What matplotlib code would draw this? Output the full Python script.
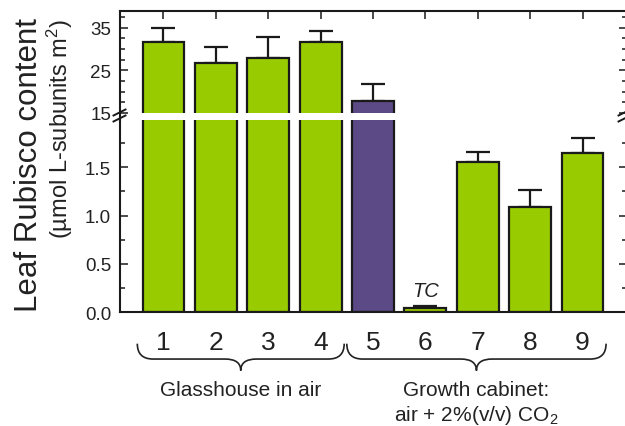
import matplotlib
matplotlib.use("Agg")
import matplotlib.pyplot as plt
from matplotlib.path import Path
from matplotlib.patches import PathPatch
from matplotlib.lines import Line2D
from matplotlib.ticker import MultipleLocator, FormatStrFormatter
import matplotlib.transforms as mtransforms
import numpy as np

plt.rcParams['font.family'] = ['Liberation Sans', 'DejaVu Sans']
plt.rcParams['mathtext.fontset'] = 'custom'
plt.rcParams['mathtext.rm'] = 'Liberation Sans'
plt.rcParams['mathtext.it'] = 'Liberation Sans:italic'

# ---- data -------------------------------------------------------------
categories = ['1', '2', '3', '4', '5', '6', '7', '8', '9']
rubisco = [31.7, 26.6, 27.8, 31.7, 17.9, 0.04, 1.55, 1.09, 1.65]
rubisco_err = [3.2, 3.9, 5.0, 2.6, 3.8, 0.02, 0.11, 0.17, 0.15]
bar_colors = ['#99cc00', '#99cc00', '#99cc00', '#99cc00', '#5c4a87',
              '#99cc00', '#99cc00', '#99cc00', '#99cc00']
groups = [(1, 4, 'Glasshouse in air'),
          (5, 9, 'Growth cabinet:\nair + 2%(v/v) CO$_\\mathregular{2}$')]
tc_index = 5          # bar labelled "TC"

W, H = 625, 427
fig = plt.figure(figsize=(W / 100, H / 100), dpi=100)

def fx(px):
    return px / W

def fy(py):
    return 1 - py / H

left_px, right_px = 119.5, 626.5
up_top, up_bot = 12, 114
lo_top, lo_bot = 121, 313

ax_up = fig.add_axes([fx(left_px), fy(up_bot), fx(right_px - left_px), (up_bot - up_top) / H])
ax_lo = fig.add_axes([fx(left_px), fy(lo_bot), fx(right_px - left_px), (lo_bot - lo_top) / H])

x = np.arange(1, len(categories) + 1)
ink = '#1a1a1a'
for ax in (ax_up, ax_lo):
    ax.bar(x, rubisco, width=0.8, color=bar_colors, edgecolor=ink, linewidth=1.6, zorder=2)
    ax.errorbar(x, rubisco, yerr=[np.zeros(len(x)), rubisco_err], fmt='none',
                ecolor=ink, elinewidth=1.6, capsize=8.5, capthick=1.6, zorder=1.5)
    ax.set_xlim(0.16, 9.84)
    for s in ax.spines.values():
        s.set_linewidth(1.5)
        s.set_color(ink)
    ax.tick_params(axis='y', which='both', direction='in', left=True, right=True,
                   color=ink, width=1.1, labelsize=13.5, labelcolor='#222222', pad=6)
    ax.tick_params(axis='y', which='major', length=6)
    ax.tick_params(axis='y', which='minor', length=3.5)

# upper (broken) panel
ax_up.set_ylim(15, 38.9)
ax_up.yaxis.set_minor_locator(MultipleLocator(2.5))
ax_up.set_yticks([15, 25, 35])
ax_up.spines['bottom'].set_visible(False)
ax_up.set_xticks(x)
ax_up.tick_params(axis='x', which='both', bottom=False, top=True, labelbottom=False,
                  direction='in', length=6, width=1.1, color=ink)

# lower panel
ax_lo.set_ylim(0, 1.99)
ax_lo.yaxis.set_minor_locator(MultipleLocator(0.25))
ax_lo.set_yticks([0.0, 0.5, 1.0, 1.5])
ax_lo.yaxis.set_major_formatter(FormatStrFormatter('%.1f'))
ax_lo.spines['top'].set_visible(False)
ax_lo.set_xticks(x)
ax_lo.set_xticklabels(categories)
ax_lo.tick_params(axis='x', which='both', length=0, labelsize=19, labelcolor='#222222', pad=13)

# "TC" note above the trace bar
ax_lo.text(x[tc_index], rubisco[tc_index] + rubisco_err[tc_index] + 0.06, 'TC',
           ha='center', va='bottom', fontsize=14.5, style='italic', color='#222222')

# axis break: connect the spines and add the // marks
for sx in (left_px, right_px - 2):
    if sx == left_px:
        fig.add_artist(Line2D([fx(sx), fx(sx)], [fy(up_bot), fy(lo_top)], color=ink, lw=1.5))
    for cy in (up_bot - 0.5, lo_top - 1.5):
        fig.add_artist(Line2D([fx(sx - 6), fx(sx + 6)], [fy(cy + 3), fy(cy - 3)],
                              color=ink, lw=1.4))

# group braces and captions
trans = mtransforms.blended_transform_factory(ax_lo.transData, ax_lo.transAxes)
y_end, y_mid, y_tip = -0.165, -0.245, -0.305
r = 0.3
for first, last, label in groups:
    x0, x1 = first - 0.5, last + 0.45
    xm = (x0 + x1) / 2
    verts = [(x0, y_end), (x0, y_mid), (x0 + r, y_mid),
             (xm - r, y_mid), (xm, y_mid), (xm, y_tip),
             (xm, y_mid), (xm + r, y_mid),
             (x1 - r, y_mid), (x1, y_mid), (x1, y_end)]
    codes = [Path.MOVETO, Path.CURVE3, Path.CURVE3,
             Path.LINETO, Path.CURVE3, Path.CURVE3,
             Path.CURVE3, Path.CURVE3,
             Path.LINETO, Path.CURVE3, Path.CURVE3]
    patch = PathPatch(Path(verts, codes), transform=trans, facecolor='none',
                      edgecolor='#222222', lw=1.2, clip_on=False)
    ax_lo.add_artist(patch)
    ax_lo.text(xm, -0.355, label, transform=trans, ha='center', va='top',
               fontsize=15, color='#222222', linespacing=1.2)

# y-axis title (two lines)
fig.text(fx(29), fy(165), 'Leaf Rubisco content', rotation=90, ha='center', va='center',
         fontsize=22.5, color='#222222')
fig.text(fx(60), fy(129), '(µmol L-subunits m$^{2}$)', rotation=90, ha='center', va='center',
         fontsize=17, color='#222222')

fig.savefig('out.png', dpi=100)
